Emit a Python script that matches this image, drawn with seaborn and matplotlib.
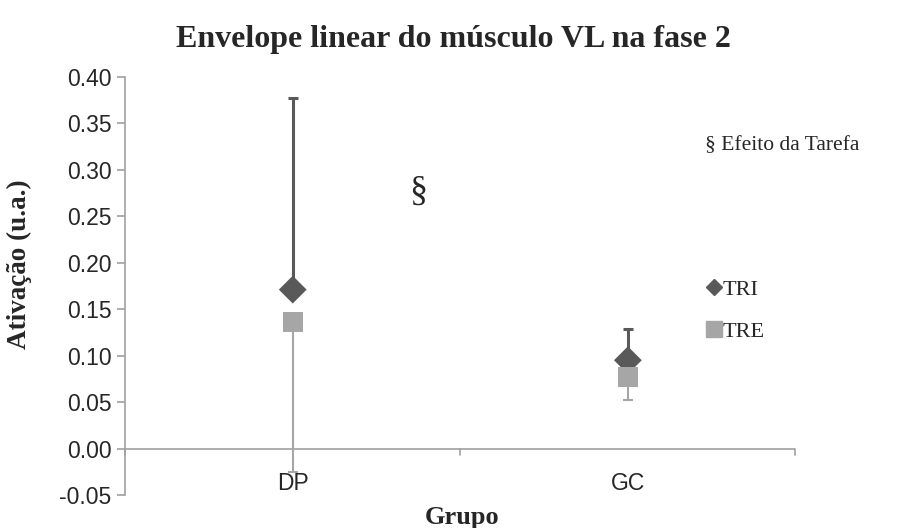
import numpy as np
import pandas as pd
import matplotlib
matplotlib.use("Agg")
import matplotlib.pyplot as plt
import seaborn as sns
from matplotlib.lines import Line2D

grupos = ["DP", "GC"]
tri_mean = [0.171, 0.095]
tri_upper = [0.377, 0.129]
tre_mean = [0.136, 0.077]
tre_lower = [-0.025, 0.052]
yticks = [-0.05, 0.0, 0.05, 0.10, 0.15, 0.20, 0.25, 0.30, 0.35, 0.40]

TRI_COLOR = "#595959"
TRE_COLOR = "#a6a6a6"
AXIS_COLOR = "#a0a0a0"
SERIF = "Liberation Serif"
SANS = "Liberation Sans"

sns.set_theme(style="white")
plt.rcParams["font.family"] = [SANS, "DejaVu Sans"]

df = pd.DataFrame({
    "Grupo": grupos * 2,
    "valor": tri_mean + tre_mean,
    "serie": ["TRI"] * 2 + ["TRE"] * 2,
})

fig = plt.figure(figsize=(9.07, 5.28), dpi=100)
ax = fig.add_axes([0.138, 0.0625, 0.739, 0.792])

# error bars (TRI upper only, TRE lower only)
x = np.arange(len(grupos))
ax.errorbar(x, tri_mean, yerr=[np.zeros(2), np.array(tri_upper) - np.array(tri_mean)],
            fmt="none", ecolor=TRI_COLOR, elinewidth=2.2, capsize=3.8, capthick=2.2, zorder=2)
ax.errorbar(x, tre_mean, yerr=[np.array(tre_mean) - np.array(tre_lower), np.zeros(2)],
            fmt="none", ecolor=TRE_COLOR, elinewidth=1.5, capsize=3.8, capthick=1.5, zorder=2)

sns.scatterplot(data=df, x="Grupo", y="valor", hue="serie", style="serie",
                markers={"TRI": "D", "TRE": "s"},
                palette={"TRI": TRI_COLOR, "TRE": TRE_COLOR},
                s=200, edgecolor="none", linewidth=0, ax=ax, zorder=3, legend=False)

ax.set_xlim(-0.5, 1.5)
ax.set_ylim(-0.05, 0.40)
ax.set_yticks(yticks)
ax.set_yticklabels([f"{v:.2f}" for v in yticks], fontsize=16.5, family=[SANS])
ax.set_xticks([])

for side in ["top", "right", "bottom"]:
    ax.spines[side].set_visible(False)
ax.spines["left"].set_color(AXIS_COLOR)
ax.spines["left"].set_linewidth(1.2)
ax.tick_params(axis="y", direction="out", length=6, width=1.2, color=AXIS_COLOR, left=True, pad=4)

# horizontal category axis at zero
ax.axhline(0, color=AXIS_COLOR, linewidth=1.2, zorder=1)
for t in [-0.5, 0.5, 1.5]:
    ax.plot([t, t], [0, -0.007], color=AXIS_COLOR, linewidth=1.2, clip_on=False)
for xi, g in zip(x, grupos):
    ax.text(xi, -0.038, g, ha="center", va="center", fontsize=16.5, family=[SANS])

ax.set_xlabel("")
ax.set_ylabel("")
fig.text(0.5, 0.926, "Envelope linear do músculo VL na fase 2", ha="center", va="center",
         fontsize=23, fontweight="bold", family=[SERIF])
fig.text(0.509, 0.019, "Grupo", ha="center", va="center", fontsize=19,
         fontweight="bold", family=[SERIF])
fig.text(0.021, 0.5, "Ativação (u.a.)", ha="center", va="center", rotation=90,
         fontsize=19.5, fontweight="bold", family=[SERIF])

ax.text(0.375, 0.277, "§", ha="center", va="center", fontsize=26, family=[SERIF])
fig.text(0.777, 0.725, "§ Efeito da Tarefa", ha="left", va="center", fontsize=15.5, family=[SERIF])

# legend
handles = [Line2D([], [], marker="D", color=TRI_COLOR, linestyle="none", markersize=8.5),
           Line2D([], [], marker="s", color=TRE_COLOR, linestyle="none", markersize=11.5)]
fig.legend(handles, ["TRI", "TRE"], loc="center left", bbox_to_anchor=(0.768, 0.412),
           frameon=False, prop={"family": SERIF, "size": 16}, handlelength=0.6,
           handletextpad=0.05, labelspacing=0.95, borderpad=0)

fig.savefig("out.png", dpi=100)
